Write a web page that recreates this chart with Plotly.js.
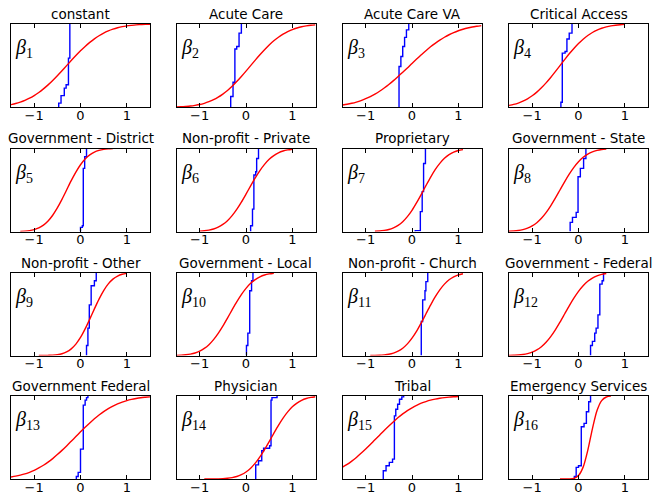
<!DOCTYPE html>
<html><head><meta charset="utf-8">
<script src="https://cdn.plot.ly/plotly-3.0.1.min.js"></script>
<style>html,body{margin:0;padding:0;background:#fff}</style>
</head><body><div id="chart" style="width:654px;height:496px"></div>
<script>
const titles = ["constant","Acute Care","Acute Care VA","Critical Access",
  "Government - District","Non-profit - Private","Proprietary","Government - State",
  "Non-profit - Other","Government - Local","Non-profit - Church","Government - Federal",
  "Government Federal","Physician","Tribal","Emergency Services"];
const tickVals = [-1, 0, 1];
const gridX = [-1.5,-1.4,-1.3,-1.2,-1.1,-1.0,-0.9,-0.8,-0.7,-0.6,-0.5,-0.4,-0.3,-0.2,-0.1,0,0.1,0.2,0.3,0.4,0.5,0.6,0.7,0.8,0.9,1.0,1.1,1.2,1.3,1.4,1.5];
const N = null;
// red curves (smooth CDFs), values on gridX
const red1 = [0.032,0.045,0.062,0.083,0.109,0.141,0.178,0.221,0.269,0.322,0.379,0.439,0.5,0.561,0.621,0.678,0.731,0.779,0.822,0.859,0.891,0.917,0.938,0.955,0.968,0.977,0.984,0.99,0.993,0.996,0.997];
const red2 = [0.004,0.006,0.010,0.015,0.023,0.033,0.048,0.067,0.091,0.122,0.159,0.202,0.252,0.309,0.370,0.434,0.5,0.566,0.630,0.691,0.748,0.798,0.841,0.878,0.909,0.933,0.952,0.967,0.977,0.985,0.990];
const red3 = [0.027,0.036,0.048,0.063,0.081,0.103,0.129,0.159,0.193,0.232,0.274,0.320,0.370,0.421,0.473,0.527,0.579,0.630,0.680,0.726,0.768,0.807,0.841,0.871,0.897,0.919,0.937,0.952,0.964,0.973,0.981];
const red4 = [0.023,0.035,0.051,0.073,0.102,0.138,0.182,0.234,0.293,0.358,0.428,0.5,0.572,0.642,0.707,0.766,0.818,0.862,0.898,0.927,0.949,0.965,0.977,0.985,0.991,0.995,N,N,N,N,N];
const red5 = [N,N,0.002,0.005,0.011,0.023,0.043,0.077,0.127,0.196,0.284,0.387,0.5,0.613,0.716,0.804,0.873,0.923,0.957,0.977,0.989,0.995,0.998,N,N,N,N,N,N,N,N];
const red6 = [N,N,N,N,N,0.004,0.009,0.017,0.030,0.052,0.085,0.130,0.191,0.266,0.354,0.450,0.550,0.646,0.734,0.809,0.870,0.915,0.948,0.970,0.983,0.991,N,N,N,N,N];
const red7 = [N,N,N,N,N,N,N,0.003,0.006,0.013,0.024,0.044,0.074,0.118,0.179,0.255,0.347,0.448,0.552,0.653,0.745,0.821,0.882,0.926,0.956,0.976,0.987,N,N,N,N];
const red8 = [0.003,0.006,0.012,0.023,0.040,0.067,0.106,0.159,0.227,0.309,0.401,0.5,0.599,0.691,0.773,0.841,0.894,0.933,0.960,0.977,0.988,0.994,N,N,N,N,N,N,N,N,N];
const red9 = [N,N,N,N,N,N,0.000,0.001,0.002,0.004,0.010,0.021,0.043,0.080,0.137,0.217,0.320,0.438,0.562,0.680,0.783,0.863,0.920,0.957,0.979,0.990,N,N,N,N,N];
const red10 = [0.002,0.004,0.009,0.017,0.030,0.052,0.085,0.130,0.191,0.266,0.354,0.450,0.550,0.646,0.734,0.809,0.870,0.915,0.948,0.970,0.983,0.991,N,N,N,N,N,N,N,N,N];
const red11 = [N,N,N,N,N,N,0.001,0.001,0.003,0.008,0.015,0.029,0.052,0.088,0.140,0.209,0.294,0.394,0.5,0.606,0.706,0.791,0.860,0.912,0.948,0.971,0.985,N,N,N,N];
const red12 = [0.001,0.003,0.006,0.012,0.023,0.040,0.067,0.106,0.159,0.227,0.309,0.401,0.5,0.599,0.691,0.773,0.841,0.894,0.933,0.960,0.977,0.988,N,N,N,N,N,N,N,N,N];
const red13 = [0.024,0.034,0.046,0.061,0.081,0.104,0.133,0.166,0.204,0.246,0.294,0.345,0.399,0.455,0.511,0.568,0.623,0.676,0.726,0.771,0.812,0.848,0.879,0.906,0.927,0.945,0.959,0.970,0.979,0.985,0.990];
const red14 = [N,N,N,N,N,N,0.000,0.000,0.001,0.002,0.004,0.009,0.017,0.030,0.052,0.085,0.130,0.191,0.266,0.354,0.450,0.550,0.646,0.734,0.809,0.870,0.915,0.948,0.970,0.983,0.991];
const red15 = [0.142,0.176,0.216,0.260,0.309,0.361,0.415,0.472,0.528,0.585,0.639,0.691,0.740,0.784,0.824,0.858,0.888,0.913,0.933,0.950,0.963,0.973,0.981,0.987,0.991,0.994,N,N,N,N,N];
const red16 = [N,N,N,N,N,N,N,N,N,N,N,0.000,0.000,0.001,0.008,0.042,0.143,0.345,0.605,0.825,0.945,0.988,0.998,N,N,N,N,N,N,N,N];
// blue empirical step CDFs: jump positions and levels after each jump
const blueX1 = [-0.47,-0.47,-0.42,-0.35,-0.31,-0.26,-0.23];
const blueY1 = [0,0.05,0.14,0.23,0.27,0.59,1];
const blueX2 = [-0.33,-0.33,-0.28,-0.24,-0.20,-0.15,-0.10];
const blueY2 = [0,0.13,0.30,0.70,0.73,0.89,1];
const blueX3 = [-0.28,-0.28,-0.24,-0.20,-0.16,-0.12,-0.07];
const blueY3 = [0,0.49,0.61,0.73,0.84,0.93,1];
const blueX4 = [-0.38,-0.38,-0.35,-0.29,-0.25,-0.20,-0.14];
const blueY4 = [0,0.06,0.65,0.67,0.82,0.89,1];
const blueX5 = [0.0,0.0,0.04,0.06,0.09,0.13];
const blueY5 = [0,0.05,0.07,0.76,0.90,1];
const blueX6 = [0.10,0.10,0.14,0.17,0.21,0.23,0.27];
const blueY6 = [0,0.07,0.27,0.68,0.72,0.88,1];
const blueX7 = [0.07,0.07,0.18,0.22,0.25,0.29];
const blueY7 = [0,0.01,0.24,0.48,0.82,1];
const blueX8 = [-0.18,-0.18,-0.13,-0.05,-0.01,0.04,0.11,0.16];
const blueY8 = [0,0.11,0.17,0.23,0.66,0.76,0.88,1];
const blueX9 = [0.13,0.13,0.16,0.19,0.23,0.30,0.34];
const blueY9 = [0,0.12,0.33,0.61,0.84,0.90,1];
const blueX10 = [0.01,0.01,0.04,0.08,0.12,0.15];
const blueY10 = [0,0.12,0.27,0.78,0.90,1];
const blueX11 = [0.20,0.20,0.23,0.28,0.30,0.34];
const blueY11 = [0,0.41,0.67,0.78,0.89,1];
const blueX12 = [0.26,0.26,0.30,0.35,0.38,0.42,0.46,0.51,0.54];
const blueY12 = [0,0.12,0.17,0.27,0.33,0.49,0.86,0.90,1];
const blueX13 = [-0.09,-0.09,-0.05,0.0,0.06,0.10,0.13,0.16];
const blueY13 = [0,0.03,0.08,0.36,0.89,0.95,0.98,1];
const blueX14 = [0.21,0.21,0.27,0.34,0.38,0.51,0.54,0.56,0.67];
const blueY14 = [0,0.17,0.22,0.34,0.37,0.40,0.95,0.98,1];
const blueX15 = [-0.62,-0.62,-0.56,-0.49,-0.42,-0.38,-0.35,-0.31,-0.27,-0.22,-0.18];
const blueY15 = [0,0.10,0.16,0.20,0.24,0.76,0.84,0.90,0.96,0.99,1];
const blueX16 = [-0.09,-0.09,-0.05,0.0,0.06,0.12,0.17,0.22,0.26];
const blueY16 = [0,0.03,0.14,0.16,0.63,0.67,0.81,0.93,1];

const reds = [red1,red2,red3,red4,red5,red6,red7,red8,red9,red10,red11,red12,red13,red14,red15,red16];
const bluesX = [blueX1,blueX2,blueX3,blueX4,blueX5,blueX6,blueX7,blueX8,blueX9,blueX10,blueX11,blueX12,blueX13,blueX14,blueX15,blueX16];
const bluesY = [blueY1,blueY2,blueY3,blueY4,blueY5,blueY6,blueY7,blueY8,blueY9,blueY10,blueY11,blueY12,blueY13,blueY14,blueY15,blueY16];

const W = 654, H = 496;
const colL = [11, 176.5, 342.5, 509].map(v => v / W);
const colR = [150, 315.5, 481.5, 648].map(v => v / W);
const rowT = [24, 148.5, 272.5, 396].map(v => 1 - v / H);
const rowB = [107.3, 231.5, 355.5, 479].map(v => 1 - v / H);

const traces = [];
const layout = {
  width: W, height: H, margin: {l: 0, r: 0, t: 0, b: 0},
  paper_bgcolor: '#fff', plot_bgcolor: '#fff', showlegend: false,
  annotations: []
};
for (let i = 0; i < 16; i++) {
  const r = Math.floor(i / 4), c = i % 4;
  const k = i === 0 ? '' : String(i + 1);
  traces.push({x: bluesX[i], y: bluesY[i], mode: 'lines', line: {color: '#0000ff', width: 1.4, shape: 'hv'},
    xaxis: 'x' + k, yaxis: 'y' + k, hoverinfo: 'skip'});
  traces.push({x: gridX, y: reds[i], mode: 'lines', line: {color: '#ff0000', width: 1.4, shape: 'spline', smoothing: 0.8},
    xaxis: 'x' + k, yaxis: 'y' + k, hoverinfo: 'skip', connectgaps: false});
  layout['xaxis' + k] = {
    domain: [colL[c], colR[c]], anchor: 'y' + k, range: [-1.5, 1.5],
    tickmode: 'array', tickvals: tickVals, ticks: 'inside', ticklen: 4, tickwidth: 1, tickcolor: '#000',
    showline: true, linecolor: '#000', linewidth: 1, mirror: 'ticks',
    showgrid: false, zeroline: false, fixedrange: true, ticklabelstandoff: -4,
    tickfont: {family: 'DejaVu Sans', size: 13, color: '#000'}
  };
  layout['yaxis' + k] = {
    domain: [rowB[r], rowT[r]], anchor: 'x' + k, range: [0, 1],
    showticklabels: false, ticks: '', showline: true, linecolor: '#000', linewidth: 1, mirror: true,
    showgrid: false, zeroline: false, fixedrange: true
  };
  layout.annotations.push({
    text: titles[i], xref: 'paper', yref: 'paper',
    x: (colL[c] + colR[c]) / 2, y: rowT[r], xanchor: 'center', yanchor: 'bottom', yshift: 0,
    showarrow: false, font: {family: 'DejaVu Sans', size: 13.5, color: '#000'}
  });
  layout.annotations.push({
    text: '<i>β</i><sub>' + (i + 1) + '</sub>', xref: 'x' + k + ' domain', yref: 'y' + k + ' domain',
    x: 0.015, y: 0.70, xanchor: 'left', yanchor: 'middle',
    showarrow: false, font: {family: 'Liberation Serif', size: 20, color: '#000'}
  });
}
Plotly.newPlot('chart', traces, layout, {staticPlot: true, displayModeBar: false});
</script>
</body></html>
